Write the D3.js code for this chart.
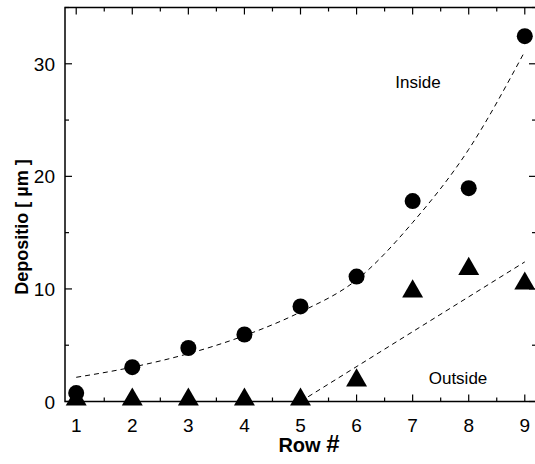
<!DOCTYPE html>
<html>
<head>
<meta charset="utf-8">
<script src="https://cdn.jsdelivr.net/npm/d3@7"></script>
<style>
  body { margin: 0; background: #fff; }
  svg { display: block; font-family: "Liberation Sans", Arial, sans-serif; }
</style>
</head>
<body>
<svg id="chart" width="535" height="464"></svg>
<script>
// --- Data ---
const rows = [1, 2, 3, 4, 5, 6, 7, 8, 9];
const inside = [0.75, 3.05, 4.75, 5.95, 8.45, 11.1, 17.8, 18.95, 32.45];
const outside = [0, 0, 0, 0, 0, 1.7, 9.6, 11.6, 10.3];

// dashed fit curves
const insideFit = [2.15, 3.05, 4.25, 5.85, 7.95, 10.8, 15.9, 22.4, 31.1];
const outsideFitX = [5, 9];
const outsideFit = [0, 12.4];

const xTicks = [1, 2, 3, 4, 5, 6, 7, 8, 9];
const yTicks = [0, 10, 20, 30];

// --- Scales ---
const svg = d3.select("#chart");
const x = d3.scaleLinear().domain([0.8, 9.2]).range([65, 536]);
const y = d3.scaleLinear().domain([0, 35]).range([401.5, 7.5]);

const g = svg.append("g");

// frame
g.append("rect")
  .attr("x", x(0.8)).attr("y", y(35))
  .attr("width", x(9.2) - x(0.8)).attr("height", y(0) - y(35))
  .attr("fill", "none").attr("stroke", "#000").attr("stroke-width", 1.5);

// --- Ticks (inward, all four sides) ---
const xMinor = d3.range(1, 9.01, 0.5);
const yMinor = d3.range(0, 35.01, 5);

g.selectAll(".xt-b").data(xMinor).enter().append("line")
  .attr("x1", d => x(d)).attr("x2", d => x(d))
  .attr("y1", y(0)).attr("y2", d => y(0) - (d % 1 === 0 ? 7 : 4))
  .attr("stroke", "#000").attr("stroke-width", 1.2);
g.selectAll(".xt-t").data(xMinor).enter().append("line")
  .attr("x1", d => x(d)).attr("x2", d => x(d))
  .attr("y1", y(35)).attr("y2", d => y(35) + (d % 1 === 0 ? 7 : 4))
  .attr("stroke", "#000").attr("stroke-width", 1.2);
g.selectAll(".yt-l").data(yMinor).enter().append("line")
  .attr("y1", d => y(d)).attr("y2", d => y(d))
  .attr("x1", x(0.8)).attr("x2", d => x(0.8) + (d % 10 === 0 ? 7 : 4))
  .attr("stroke", "#000").attr("stroke-width", 1.2);
g.selectAll(".yt-r").data(yMinor).enter().append("line")
  .attr("y1", d => y(d)).attr("y2", d => y(d))
  .attr("x1", x(9.2)).attr("x2", d => x(9.2) - (d % 10 === 0 ? 7 : 4))
  .attr("stroke", "#000").attr("stroke-width", 1.2);

// tick labels
g.selectAll(".xl").data(xTicks).enter().append("text")
  .attr("x", d => x(d)).attr("y", 432)
  .attr("text-anchor", "middle").attr("font-size", 19)
  .text(d => d);
g.selectAll(".yl").data(yTicks).enter().append("text")
  .attr("x", 55).attr("y", d => y(d) + 7)
  .attr("text-anchor", "end").attr("font-size", 19)
  .text(d => d);

// axis titles
const xt = svg.append("text")
  .attr("x", 309).attr("y", 452)
  .attr("text-anchor", "middle").attr("font-size", 20).attr("font-weight", "bold");
xt.append("tspan").text("Row ");
xt.append("tspan").attr("font-size", 24).text("#");

svg.append("text")
  .attr("transform", "translate(28,227) rotate(-90)")
  .attr("text-anchor", "middle").attr("font-size", 18).attr("font-weight", "bold")
  .text("Depositio [ µm ]");

// --- Fit curves ---
const line = d3.line().x(d => x(d[0])).y(d => y(d[1]));
g.append("path")
  .datum(rows.map((r, i) => [r, insideFit[i]]))
  .attr("d", line.curve(d3.curveMonotoneX))
  .attr("fill", "none").attr("stroke", "#000").attr("stroke-width", 1)
  .attr("stroke-dasharray", "5,4");
g.append("path")
  .datum(outsideFitX.map((r, i) => [r, outsideFit[i]]))
  .attr("d", d3.line().x(d => x(d[0])).y(d => y(d[1])))
  .attr("fill", "none").attr("stroke", "#000").attr("stroke-width", 1)
  .attr("stroke-dasharray", "5,4");

// --- Markers ---
g.selectAll(".in").data(rows).enter().append("circle")
  .attr("cx", d => x(d)).attr("cy", (d, i) => y(inside[i]))
  .attr("r", 8).attr("fill", "#000");

const tri = d3.symbol().type(d3.symbolTriangle).size(190);
g.selectAll(".out").data(rows).enter().append("path")
  .attr("d", tri)
  .attr("transform", (d, i) => `translate(${x(d)},${y(outside[i]) - 2})`)
  .attr("fill", "#000");

// --- Labels ---
svg.append("text").attr("x", 418).attr("y", 88)
  .attr("text-anchor", "middle").attr("font-size", 17).text("Inside");
svg.append("text").attr("x", 458).attr("y", 384)
  .attr("text-anchor", "middle").attr("font-size", 17).text("Outside");
</script>
</body>
</html>
